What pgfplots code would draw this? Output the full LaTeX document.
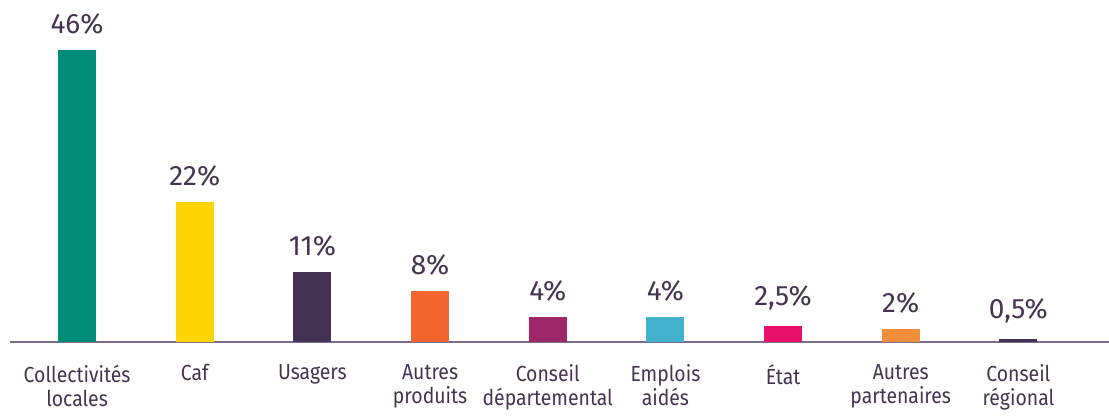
\documentclass[border=0pt]{standalone}
\usepackage{pgfplots}
\pgfplotsset{compat=1.18}
\usepackage{fontspec}
\setmainfont{Fira Sans}[FakeStretch=0.89]
\newfontfamily\valfont{Fira Sans}
\definecolor{txt}{HTML}{45334F}
\definecolor{axl}{HTML}{7B6E8A}
\definecolor{c1}{HTML}{008D78}
\definecolor{c2}{HTML}{FDD300}
\definecolor{c3}{HTML}{443252}
\definecolor{c4}{HTML}{F2652E}
\definecolor{c5}{HTML}{9E2769}
\definecolor{c6}{HTML}{42B2CF}
\definecolor{c7}{HTML}{E80F6A}
\definecolor{c8}{HTML}{F08E3C}
\definecolor{c9}{HTML}{443252}
\begin{document}
\begin{tikzpicture}[x=1pt,y=1pt]
\begin{axis}[
  name=ax,
  scale only axis,
  width=1099pt, height=317.5pt,
  xmin=-0.57, xmax=8.77,
  ymin=0, ymax=50,
  ybar, bar width=38pt, bar shift=0pt,
  axis x line*=bottom,
  axis y line=none,
  x axis line style={draw=axl, line width=1.2pt, -},
  xtick={0,...,8},
  xticklabels={Collectivités\\locales, Caf, Usagers, Autres\\produits, Conseil\\départemental, Emplois\\aidés, État, Autres\\partenaires, Conseil\\régional},
  xticklabel style={align=center, font=\fontsize{21.8}{24}\selectfont, text=txt, anchor=north, yshift=-19pt},
  major tick length=0pt,
  /pgf/number format/assume math mode=true,
  nodes near coords={\pgfmathprintnumber[use comma]{\pgfplotspointmeta}\%},
  every node near coord/.append style={font=\valfont\fontsize{28}{32}\selectfont, text=txt, anchor=south, yshift=12pt},
  every axis plot/.append style={draw=none},
  clip=false,
]
\addplot[fill=c1] coordinates {(0,46)};
\addplot[fill=c2] coordinates {(1,22)};
\addplot[fill=c3] coordinates {(2,11)};
\addplot[fill=c4] coordinates {(3,8)};
\addplot[fill=c5] coordinates {(4,4)};
\addplot[fill=c6] coordinates {(5,4)};
\addplot[fill=c7] coordinates {(6,2.5)};
\addplot[fill=c8] coordinates {(7,2)};
\addplot[fill=c9] coordinates {(8,0.5)};
\end{axis}
\pgfresetboundingbox
\path (ax.south west) ++(-10pt,-74pt) coordinate (bl);
\path (ax.north east) ++(0pt,24.5pt) coordinate (tr);
\useasboundingbox (bl) rectangle (tr);
\end{tikzpicture}
\end{document}
